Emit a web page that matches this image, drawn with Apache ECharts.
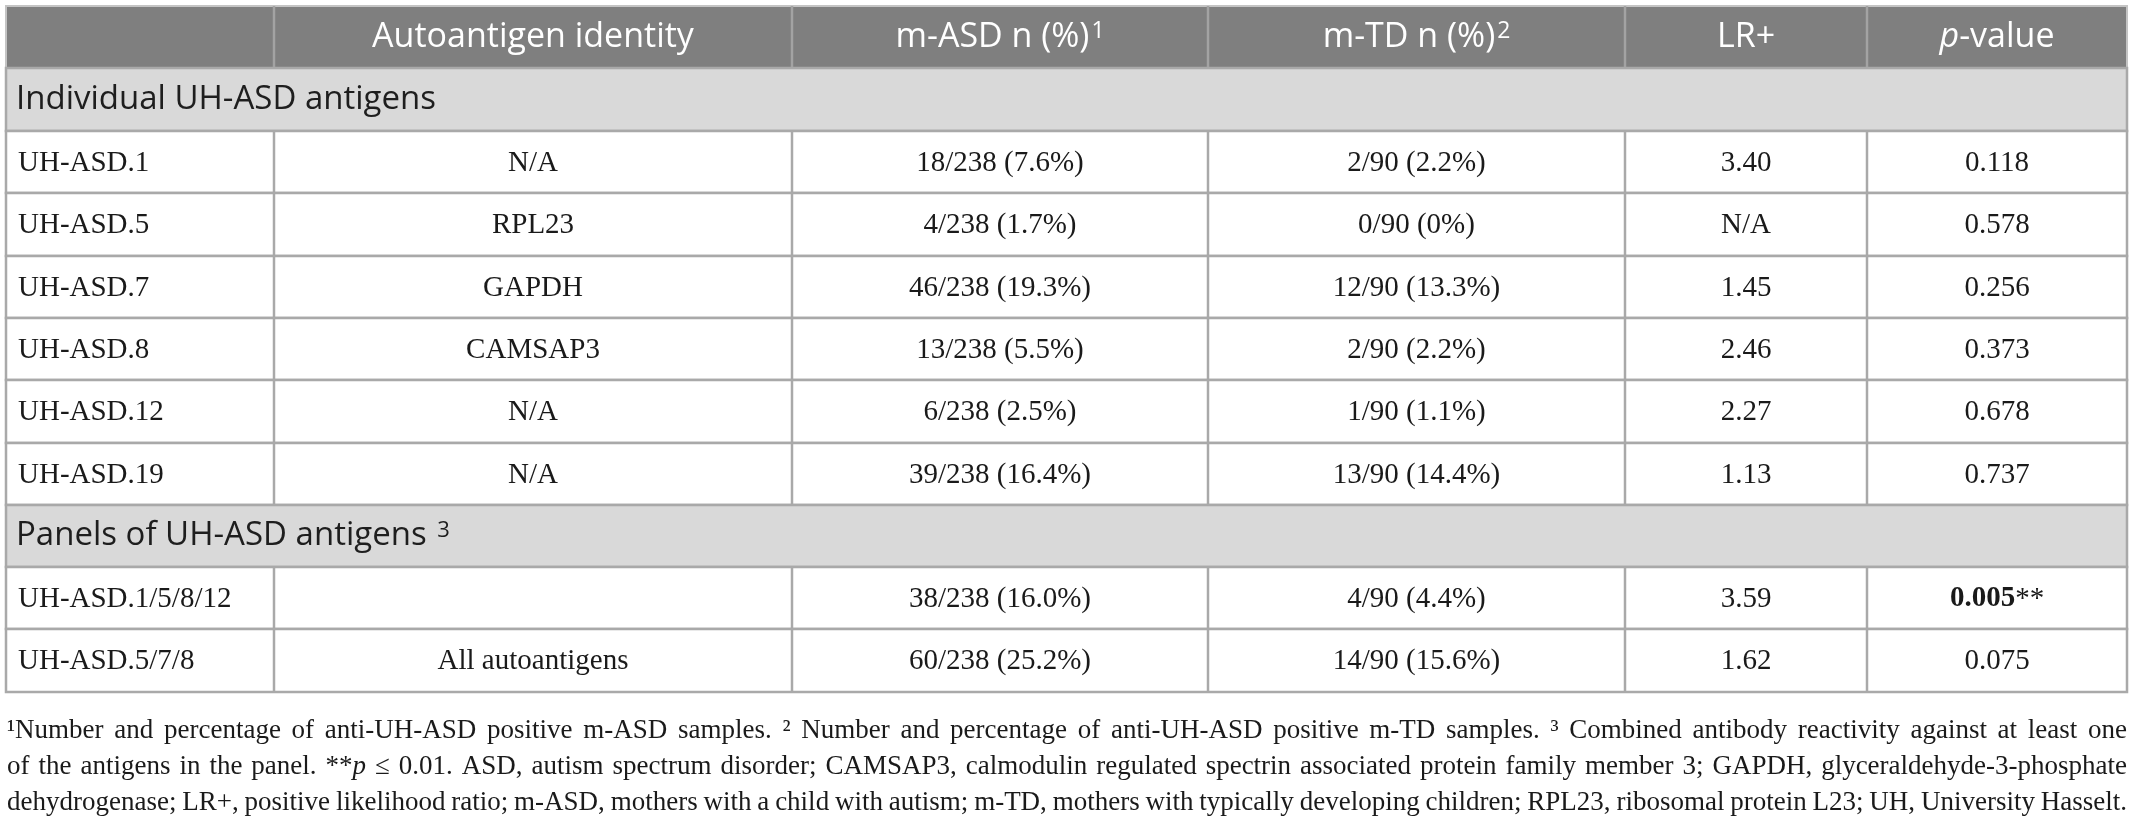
<!DOCTYPE html>
<html><head><meta charset="utf-8">
<script src="https://cdn.jsdelivr.net/npm/echarts@6/dist/echarts.min.js"></script>
<style>html,body{margin:0;padding:0;background:#fff}#c{width:2133px;height:823px}</style>
</head><body><div id="c"></div>
<script>
// ---------- data ----------
const headers = ['', 'Autoantigen identity', 'm-ASD n (%){s|1}', 'm-TD n (%){s|2}', 'LR+', '{i|p}-value'];
const sectionTitles = ['Individual UH-ASD antigens', 'Panels of UH-ASD antigens {s|3}'];
const individualAntigens = ['UH-ASD.1', 'UH-ASD.5', 'UH-ASD.7', 'UH-ASD.8', 'UH-ASD.12', 'UH-ASD.19'];
const individualIdentity = ['N/A', 'RPL23', 'GAPDH', 'CAMSAP3', 'N/A', 'N/A'];
const individualMASD = ['18/238 (7.6%)', '4/238 (1.7%)', '46/238 (19.3%)', '13/238 (5.5%)', '6/238 (2.5%)', '39/238 (16.4%)'];
const individualMTD = ['2/90 (2.2%)', '0/90 (0%)', '12/90 (13.3%)', '2/90 (2.2%)', '1/90 (1.1%)', '13/90 (14.4%)'];
const individualLR = ['3.40', 'N/A', '1.45', '2.46', '2.27', '1.13'];
const individualP = ['0.118', '0.578', '0.256', '0.373', '0.678', '0.737'];
const panelAntigens = ['UH-ASD.1/5/8/12', 'UH-ASD.5/7/8'];
const panelIdentity = ['', 'All autoantigens'];
const panelMASD = ['38/238 (16.0%)', '60/238 (25.2%)'];
const panelMTD = ['4/90 (4.4%)', '14/90 (15.6%)'];
const panelLR = ['3.59', '1.62'];
const panelP = ['{b|0.005}**', '0.075'];
const footnoteLines = [
  '¹Number and percentage of anti-UH-ASD positive m-ASD samples. ² Number and percentage of anti-UH-ASD positive m-TD samples. ³ Combined antibody reactivity against at least one',
  'of the antigens in the panel. **{i|p} ≤ 0.01. ASD, autism spectrum disorder; CAMSAP3, calmodulin regulated spectrin associated protein family member 3; GAPDH, glyceraldehyde-3-phosphate',
  'dehydrogenase; LR+, positive likelihood ratio; m-ASD, mothers with a child with autism; m-TD, mothers with typically developing children; RPL23, ribosomal protein L23; UH, University Hasselt.'
];

// ---------- layout (pixels) ----------
const colEdges = [6, 274, 792, 1208, 1625, 1867, 2127];
const rowEdges = [6, 68, 131, 193, 256, 318, 380, 443, 505, 567, 629, 692];
const footY = [731, 767, 803];
const SANS = 'Open Sans', SERIF = 'Liberation Serif';
const HEAD_SIZE = 34, SECT_SIZE = 33, BODY_SIZE = 29;

// ---------- build rows ----------
const tableRows = [];
tableRows.push({ kind: 'header', cells: headers });
tableRows.push({ kind: 'section', cells: [sectionTitles[0]] });
individualAntigens.forEach((a, i) => tableRows.push({ kind: 'body', cells: [a, individualIdentity[i], individualMASD[i], individualMTD[i], individualLR[i], individualP[i]] }));
tableRows.push({ kind: 'section', cells: [sectionTitles[1]] });
panelAntigens.forEach((a, i) => tableRows.push({ kind: 'body', cells: [a, panelIdentity[i], panelMASD[i], panelMTD[i], panelLR[i], panelP[i]] }));

const LINE = '#a9a9a9';
function richFor(family, size, fill) {
  return {
    n: { fontFamily: family, fontSize: size, fill: fill },
    i: { fontFamily: family, fontSize: size, fill: fill, fontStyle: 'italic' },
    b: { fontFamily: family, fontSize: size, fill: fill, fontWeight: 'bold' },
    s: { fontFamily: family, fontSize: Math.round(size * 0.68), fill: fill, verticalAlign: 'top', padding: [0, 0, 0, 2] }
  };
}
function textEl(t, x, y, align, family, size, fill) {
  return { type: 'text', style: { text: t, x: x, y: y, align: align, verticalAlign: 'middle', fontFamily: family, fontSize: size, fill: fill, rich: richFor(family, size, fill) } };
}

function renderItem(params, api) {
  const r = api.value(2);
  const row = tableRows[r];
  const p0 = api.coord([colEdges[0], rowEdges[r]]);
  const p1 = api.coord([colEdges[colEdges.length - 1], rowEdges[r + 1]]);
  const x0 = p0[0], y0 = p0[1], x1 = p1[0], y1 = p1[1];
  const yc = (y0 + y1) / 2;
  const children = [];
  if (row.kind === 'header') {
    children.push({ type: 'rect', shape: { x: x0, y: y0, width: x1 - x0, height: y1 - y0 }, style: { fill: '#7f7f7f', stroke: '#c4c4c4', lineWidth: 2 } });
    for (let c = 1; c < colEdges.length - 1; c++) {
      const xc = api.coord([colEdges[c], 0])[0];
      children.push({ type: 'line', shape: { x1: xc, y1: y0, x2: xc, y2: y1 }, style: { stroke: '#a3a3a3', lineWidth: 2.5 } });
    }
    row.cells.forEach((t, c) => {
      if (!t) return;
      const xa = api.coord([colEdges[c], 0])[0], xb = api.coord([colEdges[c + 1], 0])[0];
      children.push(textEl(t, (xa + xb) / 2, yc, 'center', SANS, HEAD_SIZE, '#ffffff'));
    });
  } else if (row.kind === 'section') {
    children.push({ type: 'rect', shape: { x: x0, y: y0, width: x1 - x0, height: y1 - y0 }, style: { fill: '#d9d9d9', stroke: LINE, lineWidth: 2.5 } });
    children.push(textEl(row.cells[0], x0 + 10, yc, 'left', SANS, SECT_SIZE, '#1e1e1e'));
  } else {
    children.push({ type: 'rect', shape: { x: x0, y: y0, width: x1 - x0, height: y1 - y0 }, style: { fill: '#ffffff', stroke: LINE, lineWidth: 2.5 } });
    for (let c = 1; c < colEdges.length - 1; c++) {
      const xc = api.coord([colEdges[c], 0])[0];
      children.push({ type: 'line', shape: { x1: xc, y1: y0, x2: xc, y2: y1 }, style: { stroke: LINE, lineWidth: 2.5 } });
    }
    row.cells.forEach((t, c) => {
      if (!t) return;
      const xa = api.coord([colEdges[c], 0])[0], xb = api.coord([colEdges[c + 1], 0])[0];
      const left = c === 0;
      children.push(textEl(t, left ? xa + 12 : (xa + xb) / 2, yc + 1, left ? 'left' : 'center', SERIF, BODY_SIZE, '#1a1a1a'));
    });
  }
  return { type: 'group', children: children };
}

// ---------- footnote: justified words ----------
const mctx = document.createElement('canvas').getContext('2d');
function parseWord(w) {
  const parts = [];
  const re = /\{(\w+)\|([^}]*)\}|([^{]+)/g;
  let m;
  while ((m = re.exec(w))) parts.push(m[3] !== undefined ? { t: m[3], s: '' } : { t: m[2], s: m[1] });
  return parts;
}
function wordWidth(w, size) {
  return parseWord(w).reduce((acc, p) => {
    mctx.font = (p.s === 'i' ? 'italic ' : '') + size + 'px "' + SERIF + '"';
    return acc + mctx.measureText(p.t).width;
  }, 0);
}
const footLeft = 7, footRight = 2127;
let footSize = 27;
const lineWords = footnoteLines.map(l => l.split(' '));
function fits(size) {
  return lineWords.every(ws => ws.reduce((a, w) => a + wordWidth(w, size), 0) + (ws.length - 1) * size * 0.18 <= footRight - footLeft);
}
while (footSize > 18 && !fits(footSize)) footSize -= 0.25;
const footGraphics = [];
lineWords.forEach((ws, li) => {
  const widths = ws.map(w => wordWidth(w, footSize));
  const total = widths.reduce((a, b) => a + b, 0);
  const gap = (footRight - footLeft - total) / (ws.length - 1);
  let x = footLeft;
  ws.forEach((w, wi) => {
    const el = textEl(w, x, footY[li], 'left', SERIF, footSize, '#1a1a1a');
    el.silent = true;
    footGraphics.push(el);
    x += widths[wi] + gap;
  });
});

// ---------- chart ----------
const chart = echarts.init(document.getElementById('c'), null, { renderer: 'canvas' });
chart.setOption({
  animation: false,
  backgroundColor: '#ffffff',
  grid: { left: colEdges[0], right: 2133 - colEdges[colEdges.length - 1], top: rowEdges[0], bottom: 823 - rowEdges[rowEdges.length - 1] },
  xAxis: { type: 'value', min: colEdges[0], max: colEdges[colEdges.length - 1], show: false },
  yAxis: { type: 'value', min: rowEdges[0], max: rowEdges[rowEdges.length - 1], inverse: true, show: false },
  series: [{
    type: 'custom',
    silent: true,
    clip: false,
    renderItem: renderItem,
    encode: { x: 0, y: 1 },
    data: tableRows.map((row, i) => [colEdges[0], rowEdges[i], i])
  }],
  graphic: footGraphics
});
</script></body></html>
